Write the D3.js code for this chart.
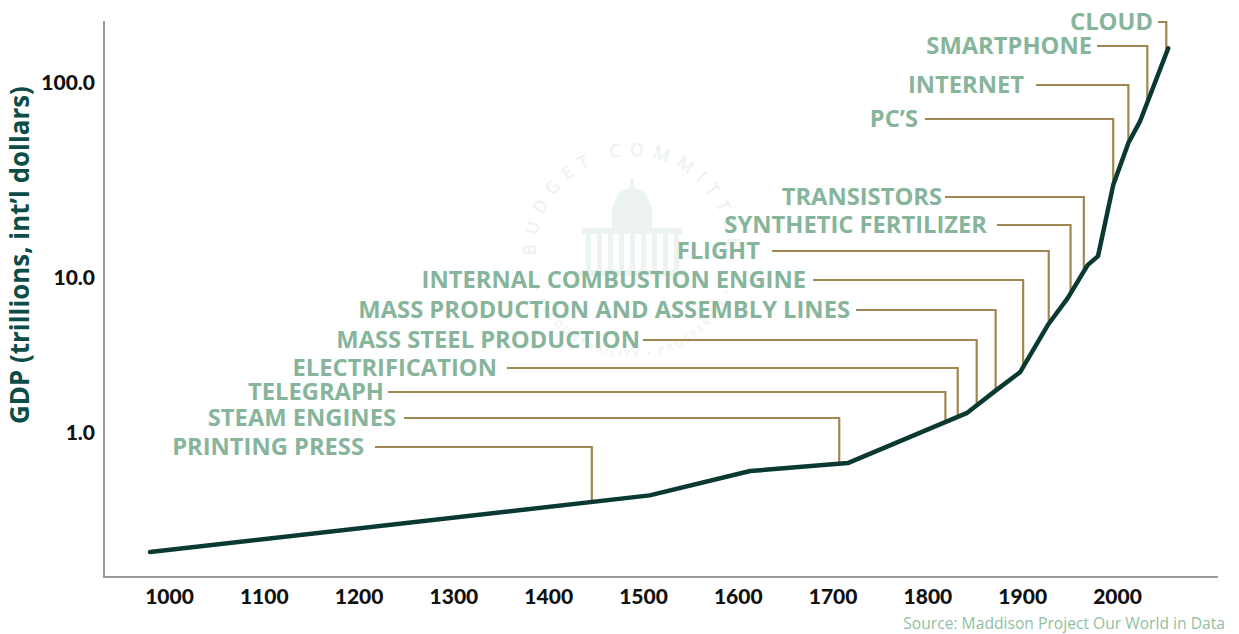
<!DOCTYPE html>
<html><head><meta charset="utf-8">
<script src="https://cdn.jsdelivr.net/npm/d3@7"></script>
<style>body{margin:0;background:#fff}svg{display:block}</style>
</head><body>
<svg id="c" width="1239" height="634"></svg>
<script>
// ---- data ----
const years = [980, 1507, 1613, 1716, 1842, 1873, 1898, 1927, 1948, 1969, 1980, 1996, 2012, 2024, 2033, 2054];
const gdp   = [0.168, 0.39, 0.56, 0.63, 1.33, 1.87, 2.44, 4.9, 7.3, 11.5, 12.8, 29.6, 48.7, 62.4, 80.9, 149];
const xTicks = [1000, 1100, 1200, 1300, 1400, 1500, 1600, 1700, 1800, 1900, 2000];
const yTicks = [1, 10, 100];
const milestones = ["CLOUD", "SMARTPHONE", "INTERNET", "PC’S", "TRANSISTORS", "SYNTHETIC FERTILIZER", "FLIGHT",
  "INTERNAL COMBUSTION ENGINE", "MASS PRODUCTION AND ASSEMBLY LINES", "MASS STEEL PRODUCTION",
  "ELECTRIFICATION", "TELEGRAPH", "STEAM ENGINES", "PRINTING PRESS"];
const milestoneYears = [2052, 2032, 2012, 1996, 1965, 1951, 1928, 1901, 1872, 1852, 1832, 1819, 1707, 1446];
const yTitle = "GDP (trillions, int’l dollars)";
const sourceText = "Source: Maddison Project Our World in Data";
const sealTop = "BUDGET COMMITTEE";
const sealBottom = "• ACCOUNTABILITY • PROSPERITY •";

// ---- layout ----
const rowY      = [22, 46, 85, 119, 197, 225, 251, 280, 310, 340, 368, 392, 418, 447];
const textRight = [1153, 1092, 1024, 918, 942, 987, 760, 806, 850, 640, 497, 384, 396, 364];
const lineStart = [1158, 1097, 1036, 925, 945, 997, 772, 813, 856, 643, 507, 388, 404, 375];

const svg = d3.select("#c");
const x = d3.scaleLinear().domain([1000, 2000]).range([169, 1117]);
const y = d3.scaleLog().domain([1, 10, 100]).range([432, 277, 82]);

// ---- watermark seal ----
const wm = svg.append("g").attr("fill", "#edf3ee").attr("stroke", "none");
const cx = 632, cy = 252, r = 96, rb = 106;
const pol = (rad, deg) => [cx + rad * Math.cos(deg * Math.PI / 180), cy - rad * Math.sin(deg * Math.PI / 180)];
const a0 = pol(r, 198), a1 = pol(r, -18);
const b0 = pol(rb, 200), b1 = pol(rb, -20);
svg.append("defs").html(
  `<path id="arcTop" d="M${a0[0]},${a0[1]} A${r},${r} 0 1 1 ${a1[0]},${a1[1]}"/>` +
  `<path id="arcBot" d="M${b0[0]},${b0[1]} A${rb},${rb} 0 0 0 ${b1[0]},${b1[1]}"/>`);
wm.append("text").attr("font-family", "Open Sans").attr("font-size", 18).attr("font-weight", 600)
  .attr("letter-spacing", 8)
  .append("textPath").attr("href", "#arcTop").attr("startOffset", "50%").attr("text-anchor", "middle")
  .text(sealTop);
wm.append("text").attr("font-family", "Open Sans").attr("font-size", 10).attr("font-weight", 600)
  .attr("letter-spacing", 3)
  .append("textPath").attr("href", "#arcBot").attr("startOffset", "50%").attr("text-anchor", "middle")
  .text(sealBottom);
// capitol silhouette
wm.append("rect").attr("x", cx - 50).attr("y", cy - 24).attr("width", 100).attr("height", 6);
for (let i = 0; i < 9; i++) wm.append("rect").attr("x", cx - 46 + i * 11).attr("y", cy - 18).attr("width", 5).attr("height", 36);
wm.append("rect").attr("x", cx - 54).attr("y", cy + 18).attr("width", 108).attr("height", 6);
wm.append("rect").attr("x", cx - 20).attr("y", cy - 46).attr("width", 40).attr("height", 22);
wm.append("path").attr("d", `M${cx - 18},${cy - 46} A18,18 0 0 1 ${cx + 18},${cy - 46} Z`);
wm.append("rect").attr("x", cx - 2).attr("y", cy - 74).attr("width", 4).attr("height", 12);

// ---- axes lines ----
svg.append("line").attr("x1", 104).attr("x2", 104).attr("y1", 21).attr("y2", 578)
  .attr("stroke", "#999").attr("stroke-width", 2);
svg.append("line").attr("x1", 103).attr("x2", 1218).attr("y1", 577).attr("y2", 577)
  .attr("stroke", "#999").attr("stroke-width", 2);

// x axis labels
const gx = svg.append("g").attr("transform", "translate(0,577)")
  .call(d3.axisBottom(x).tickValues(xTicks).tickFormat(d3.format("d")).tickSize(0));
gx.select(".domain").remove();
gx.selectAll("text").attr("y", 26.5).attr("dy", 0)
  .attr("font-family", "Lato").attr("font-weight", 900).attr("font-size", 21).attr("fill", "#111");

// y axis labels
const gy = svg.append("g").attr("transform", "translate(104,0)")
  .call(d3.axisLeft(y).tickValues(yTicks).tickFormat(d3.format(".1f")).tickSize(0).tickPadding(9));
gy.select(".domain").remove();
gy.selectAll("text").attr("dy", "0.36em")
  .attr("font-family", "Lato").attr("font-weight", 900).attr("font-size", 21).attr("fill", "#111");

// y title
const yt = svg.append("text").attr("transform", "translate(29,255) rotate(-90)")
  .attr("text-anchor", "middle").attr("font-family", "Open Sans").attr("font-weight", 700)
  .attr("font-size", 21).attr("fill", "#0d4d48").text(yTitle);
const ytLen = yt.node().getComputedTextLength();
yt.attr("font-size", 21 * 338 / ytLen);

// ---- connectors ----
const pts = years.map((yr, i) => [x(yr), y(gdp[i])]);
function curveY(yr) {
  const px = x(yr);
  for (let i = 0; i < pts.length - 1; i++) {
    if (px >= pts[i][0] && px <= pts[i + 1][0]) {
      const t = (px - pts[i][0]) / (pts[i + 1][0] - pts[i][0]);
      return pts[i][1] + t * (pts[i + 1][1] - pts[i][1]);
    }
  }
  return pts[pts.length - 1][1];
}
svg.append("g").selectAll("path").data(milestones).join("path")
  .attr("d", (d, i) => `M${lineStart[i]},${rowY[i]}H${x(milestoneYears[i])}V${curveY(milestoneYears[i])}`)
  .attr("fill", "none").attr("stroke", "#a08752").attr("stroke-width", 2.2);

// labels
const lab = svg.append("g").selectAll("text").data(milestones).join("text")
  .attr("x", (d, i) => textRight[i]).attr("y", (d, i) => rowY[i])
  .attr("text-anchor", "end").attr("font-family", "Open Sans").attr("font-weight", 700)
  .attr("font-size", 22).attr("fill", "#87b59b").text(d => d);
const longest = lab.filter((d, i) => i === 8).node().getComputedTextLength();
const fs = 22 * 492 / longest;
lab.attr("font-size", fs).attr("dy", (0.357 * fs) + "px");

// ---- main line ----
svg.append("path").datum(years.map((yr, i) => [yr, gdp[i]]))
  .attr("d", d3.line().x(d => x(d[0])).y(d => y(d[1])))
  .attr("fill", "none").attr("stroke", "#0a3932").attr("stroke-width", 4.5)
  .attr("stroke-linejoin", "round").attr("stroke-linecap", "round");

// source
const st = svg.append("text").attr("x", 1225).attr("y", 629).attr("text-anchor", "end")
  .attr("font-family", "Open Sans").attr("font-size", 15).attr("fill", "#8fbf9f").text(sourceText);
st.attr("font-size", 15 * 322 / st.node().getComputedTextLength());
</script>
</body></html>
